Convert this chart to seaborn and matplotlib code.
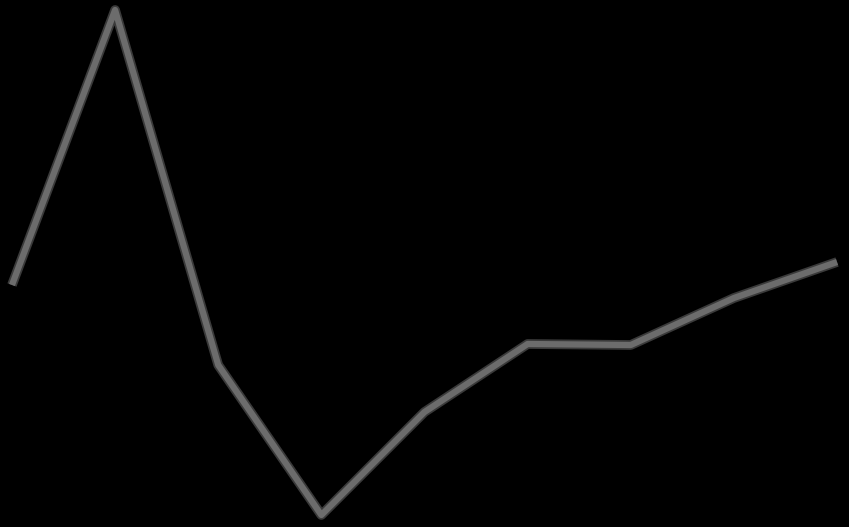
import matplotlib
matplotlib.use("Agg")
import matplotlib.pyplot as plt
import seaborn as sns
import pandas as pd

sns.set_theme(style="white")

positions = [0, 1, 2, 3, 4, 5, 6, 7, 8]
values = [242, 517, 162, 12, 115, 183, 182, 229, 265]

df = pd.DataFrame({"x": positions, "y": values})

fig = plt.figure(figsize=(8.49, 5.27), dpi=100, facecolor="black")
ax = fig.add_axes([0, 0, 1, 1])
ax.set_facecolor("black")

sns.lineplot(data=df, x="x", y="y", ax=ax, color="#3a3a3a", linewidth=7,
             solid_joinstyle="round", solid_capstyle="butt")
sns.lineplot(data=df, x="x", y="y", ax=ax, color="#6c6c6c", linewidth=4.5,
             solid_joinstyle="round", solid_capstyle="butt")

ax.set_xlim(-0.116, 8.116)
ax.set_ylim(0, 527)
ax.axis("off")
fig.savefig("out.png", dpi=100, facecolor="black")
